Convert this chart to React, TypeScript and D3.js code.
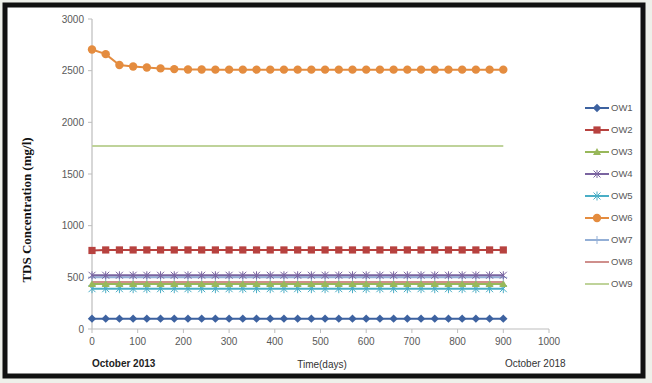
import React from "react";
import * as d3 from "d3";

const days = [0, 30, 60, 90, 120, 150, 180, 210, 240, 270, 300, 330, 360, 390, 420, 450, 480, 510, 540, 570, 600, 630, 660, 690, 720, 750, 780, 810, 840, 870, 900];

const seriesNames = ["OW1", "OW2", "OW3", "OW4", "OW5", "OW6", "OW7", "OW8", "OW9"];

const ow1 = [100, 100, 100, 100, 100, 100, 100, 100, 100, 100, 100, 100, 100, 100, 100, 100, 100, 100, 100, 100, 100, 100, 100, 100, 100, 100, 100, 100, 100, 100, 100];
const ow2 = [760, 765, 765, 765, 765, 765, 765, 765, 765, 765, 765, 765, 765, 765, 765, 765, 765, 765, 765, 765, 765, 765, 765, 765, 765, 765, 765, 765, 765, 765, 765];
const ow3 = [435, 435, 435, 435, 435, 435, 435, 435, 435, 435, 435, 435, 435, 435, 435, 435, 435, 435, 435, 435, 435, 435, 435, 435, 435, 435, 435, 435, 435, 435, 435];
const ow4 = [520, 520, 520, 520, 520, 520, 520, 520, 520, 520, 520, 520, 520, 520, 520, 520, 520, 520, 520, 520, 520, 520, 520, 520, 520, 520, 520, 520, 520, 520, 520];
const ow5 = [390, 390, 390, 390, 390, 390, 390, 390, 390, 390, 390, 390, 390, 390, 390, 390, 390, 390, 390, 390, 390, 390, 390, 390, 390, 390, 390, 390, 390, 390, 390];
const ow6 = [2705, 2660, 2555, 2540, 2530, 2522, 2515, 2512, 2512, 2510, 2510, 2510, 2510, 2510, 2510, 2510, 2510, 2510, 2510, 2510, 2510, 2510, 2510, 2510, 2510, 2510, 2510, 2510, 2510, 2510, 2510];
const ow7 = [500, 500, 500, 500, 500, 500, 500, 500, 500, 500, 500, 500, 500, 500, 500, 500, 500, 500, 500, 500, 500, 500, 500, 500, 500, 500, 500, 500, 500, 500, 500];
const ow8 = [455, 455, 455, 455, 455, 455, 455, 455, 455, 455, 455, 455, 455, 455, 455, 455, 455, 455, 455, 455, 455, 455, 455, 455, 455, 455, 455, 455, 455, 455, 455];
const ow9 = [1770, 1770, 1770, 1770, 1770, 1770, 1770, 1770, 1770, 1770, 1770, 1770, 1770, 1770, 1770, 1770, 1770, 1770, 1770, 1770, 1770, 1770, 1770, 1770, 1770, 1770, 1770, 1770, 1770, 1770, 1770];

const xTicks = [0, 100, 200, 300, 400, 500, 600, 700, 800, 900, 1000];
const yTicks = [0, 500, 1000, 1500, 2000, 2500, 3000];

type Marker = "diamond" | "square" | "triangle" | "x" | "star" | "circle" | "plus" | "none";

const styles: { color: string; marker: Marker }[] = [
  { color: "#3d62a0", marker: "diamond" },
  { color: "#b7423f", marker: "square" },
  { color: "#98b85a", marker: "triangle" },
  { color: "#7a64a0", marker: "x" },
  { color: "#4aaec6", marker: "star" },
  { color: "#e48c3f", marker: "circle" },
  { color: "#93afd6", marker: "plus" },
  { color: "#cf8f8c", marker: "none" },
  { color: "#bfd39a", marker: "none" },
];

const allSeries = [ow1, ow2, ow3, ow4, ow5, ow6, ow7, ow8, ow9];

function MarkerShape({ type, x, y, color }: { type: Marker; x: number; y: number; color: string }) {
  switch (type) {
    case "diamond":
      return <path d={`M${x},${y - 4.2}L${x + 4.2},${y}L${x},${y + 4.2}L${x - 4.2},${y}Z`} fill={color} />;
    case "square":
      return <rect x={x - 3.6} y={y - 3.6} width={7.2} height={7.2} fill={color} />;
    case "triangle":
      return <path d={`M${x},${y - 4}L${x + 4},${y + 3}L${x - 4},${y + 3}Z`} fill={color} />;
    case "x":
      return (
        <g stroke={color} strokeWidth={1}>
          <line x1={x - 3.5} y1={y - 3.5} x2={x + 3.5} y2={y + 3.5} />
          <line x1={x - 3.5} y1={y + 3.5} x2={x + 3.5} y2={y - 3.5} />
          <line x1={x} y1={y - 4} x2={x} y2={y + 4} />
        </g>
      );
    case "star":
      return (
        <g stroke={color} strokeWidth={1}>
          <line x1={x - 3.5} y1={y - 3.5} x2={x + 3.5} y2={y + 3.5} />
          <line x1={x - 3.5} y1={y + 3.5} x2={x + 3.5} y2={y - 3.5} />
          <line x1={x} y1={y - 4.5} x2={x} y2={y + 4.5} />
        </g>
      );
    case "circle":
      return <circle cx={x} cy={y} r={4.2} fill={color} />;
    case "plus":
      return (
        <g stroke={color} strokeWidth={1}>
          <line x1={x - 4} y1={y} x2={x + 4} y2={y} />
          <line x1={x} y1={y - 4} x2={x} y2={y + 4} />
        </g>
      );
    default:
      return null;
  }
}

export default function App() {
  const W = 652;
  const H = 383;
  const x = d3.scaleLinear().domain([0, 1000]).range([92, 549]);
  const y = d3.scaleLinear().domain([0, 3000]).range([329, 19]);
  const line = d3
    .line<number>()
    .x((_, i) => x(days[i]))
    .y((d) => y(d));

  const order = [8, 7, 0, 4, 2, 6, 3, 1, 5];
  const tickFont = "'Liberation Sans', Arial, sans-serif";

  return (
    <svg width={W} height={H} style={{ position: "absolute", left: 0, top: 0 }} fontFamily={tickFont}>
      <rect x={0} y={0} width={W} height={H} fill="#eef0ea" />
      <rect x={5} y={5} width={638} height={371} fill="#ffffff" stroke="#111" strokeWidth={5} />

      {/* axes */}
      <line x1={x(0)} y1={y(0)} x2={x(0)} y2={y(3000)} stroke="#bdbdbd" strokeWidth={1.2} />
      <line x1={x(0)} y1={y(0)} x2={x(1000)} y2={y(0)} stroke="#bdbdbd" strokeWidth={1.2} />
      {yTicks.map((t) => (
        <g key={"y" + t}>
          <line x1={x(0) - 4} x2={x(0)} y1={y(t)} y2={y(t)} stroke="#bdbdbd" />
          <text x={x(0) - 8} y={y(t)} dy="0.35em" textAnchor="end" fontSize={10} fill="#595959">
            {t}
          </text>
        </g>
      ))}
      {xTicks.map((t) => (
        <g key={"x" + t}>
          <line x1={x(t)} x2={x(t)} y1={y(0)} y2={y(0) + 4} stroke="#bdbdbd" />
          <text x={x(t)} y={y(0) + 16} textAnchor="middle" fontSize={10} fill="#595959">
            {t}
          </text>
        </g>
      ))}

      {/* series */}
      {order.map((si) => {
        const data = allSeries[si];
        const st = styles[si];
        return (
          <g key={seriesNames[si]}>
            <path d={line(data) || ""} fill="none" stroke={st.color} strokeWidth={2} />
            {st.marker !== "none" &&
              data.map((v, i) => (
                <MarkerShape key={i} type={st.marker} x={x(days[i])} y={y(v)} color={st.color} />
              ))}
          </g>
        );
      })}

      {/* legend */}
      {seriesNames.map((n, i) => {
        const ly = 108 + i * 22;
        const st = styles[i];
        return (
          <g key={"lg" + n}>
            <line x1={585} x2={609} y1={ly} y2={ly} stroke={st.color} strokeWidth={2} />
            <MarkerShape type={st.marker} x={597} y={ly} color={st.color} />
            <text x={611} y={ly} dy="0.35em" fontSize={9.5} fill="#595959">
              {n}
            </text>
          </g>
        );
      })}

      {/* titles */}
      <text
        transform={`translate(31,210) rotate(-90)`}
        textAnchor="middle"
        fontFamily="'Liberation Serif', 'Times New Roman', serif"
        fontWeight="bold"
        fontSize={13}
        fill="#111"
      >
        TDS Concentration (mg/l)
      </text>
      <text x={92} y={367} fontSize={10} fontWeight="bold" fill="#222">
        October 2013
      </text>
      <text x={322} y={368} textAnchor="middle" fontSize={10} fill="#333">
        Time(days)
      </text>
      <text x={505} y={367} fontSize={10} fill="#333">
        October 2018
      </text>
    </svg>
  );
}
